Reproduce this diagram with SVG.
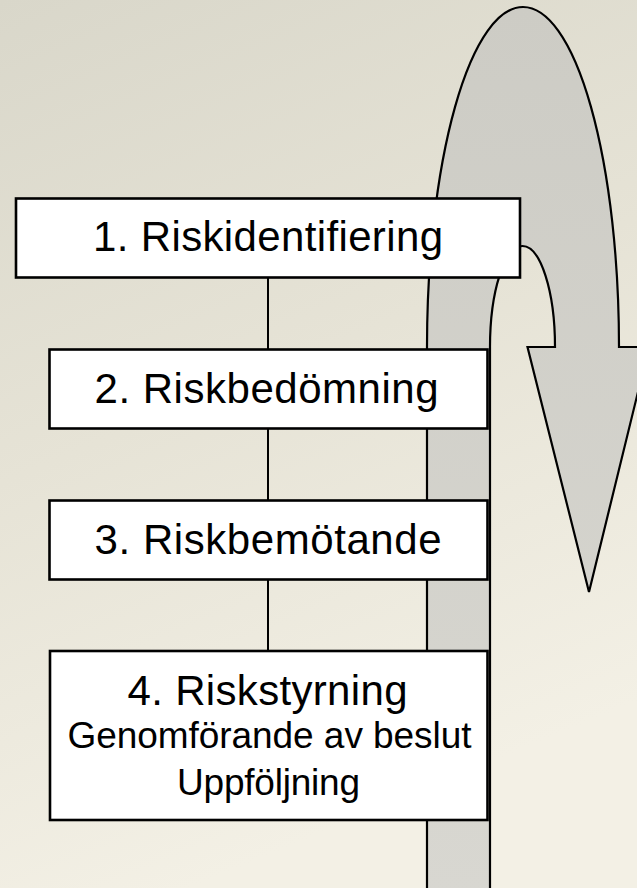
<svg xmlns="http://www.w3.org/2000/svg" width="637" height="888" viewBox="0 0 637 888">
<defs>
<linearGradient id="bg" x1="0" y1="0" x2="0.3" y2="1">
<stop offset="0" stop-color="#d9d7ca"/>
<stop offset="0.5" stop-color="#e6e3d6"/>
<stop offset="1" stop-color="#f3f0e5"/>
</linearGradient>
<linearGradient id="ar" x1="0" y1="0" x2="0" y2="1">
<stop offset="0" stop-color="#cdccc5"/>
<stop offset="1" stop-color="#d8d7d1"/>
</linearGradient>
<style>
.box{fill:#ffffff;stroke:#000000;stroke-width:2.6}
.t{font-family:"Liberation Sans",Arial,sans-serif;fill:#000000;text-anchor:middle}
.big{font-size:42px}
.small{font-size:37px}
.con{stroke:#000000;stroke-width:2;fill:none}
</style>
</defs>
<rect x="0" y="0" width="637" height="888" fill="url(#bg)"/>
<g id="cycle-arrow">
<path d="M427,892 L427,347 A96,340 0 0 1 619,347 L649,347 L589,592 L527.5,347 L555,347 A32.5,101 0 0 0 490,347 L490,892 Z" fill="url(#ar)" stroke="#000000" stroke-width="2.2"/>
</g>
<g id="connectors">
<line class="con" x1="268" y1="277" x2="268" y2="350"/>
<line class="con" x1="268" y1="428" x2="268" y2="501"/>
<line class="con" x1="268" y1="579" x2="268" y2="652"/>
</g>
<g id="node1">
<rect class="box" x="16" y="198.5" width="504" height="79"/>
<text class="t big" x="268" y="250.5" textLength="350" lengthAdjust="spacing">1. Riskidentifiering</text>
</g>
<g id="node2">
<rect class="box" x="49.5" y="349.5" width="438" height="79"/>
<text class="t big" x="266.5" y="402.5" textLength="344" lengthAdjust="spacing">2. Riskbedömning</text>
</g>
<g id="node3">
<rect class="box" x="49.5" y="500.5" width="438" height="79"/>
<text class="t big" x="268" y="553.5" textLength="347" lengthAdjust="spacing">3. Riskbemötande</text>
</g>
<g id="node4">
<rect class="box" x="50" y="651" width="437.5" height="169"/>
<text class="t big" x="267.5" y="704.5" textLength="280" lengthAdjust="spacing">4. Riskstyrning</text>
<text class="t small" x="269.5" y="747.5" textLength="404" lengthAdjust="spacing">Genomförande av beslut</text>
<text class="t small" x="268.5" y="795" textLength="183" lengthAdjust="spacing">Uppföljning</text>
</g>
</svg>
